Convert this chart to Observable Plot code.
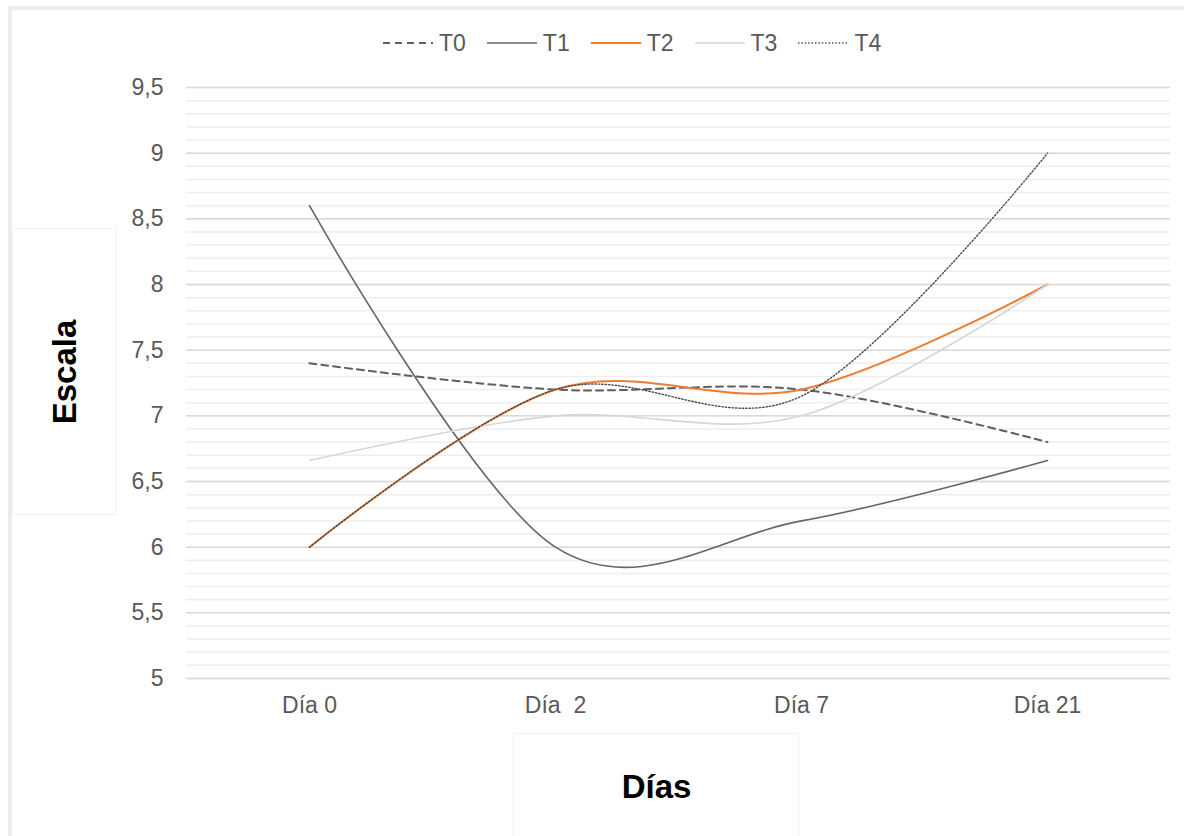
<!DOCTYPE html>
<html>
<head>
<meta charset="utf-8">
<script src="https://cdn.jsdelivr.net/npm/d3@7"></script>
<script src="https://cdn.jsdelivr.net/npm/@observablehq/plot@0.6"></script>
<style>
  body { margin: 0; background: #fff; font-family: "Liberation Sans", Arial, sans-serif; }
  #wrap { position: relative; width: 1184px; height: 836px; }
  #wrap svg text { white-space: pre; }
  #legend { position: absolute; top: 30px; left: 383px; display: flex; align-items: center;
            font-size: 23px; color: #595959; line-height: 26px; }
  #legend .item { display: flex; align-items: center; margin-right: 21px; }
  #legend .item svg { margin-right: 6px; }
</style>
</head>
<body>
<div id="wrap"><div id="legend"></div></div>
<script>
// Días de medición
const dias = ["Día 0", "Día  2", "Día 7", "Día 21"];

// Valores de la escala por tratamiento
const T0 = [7.4, 7.2, 7.2, 6.8];
const T1 = [8.6, 6.0, 6.2, 6.66];
const T2 = [6.0, 7.2, 7.2, 8.0];
const T3 = [6.66, 7.0, 7.0, 8.0];
const T4 = [6.0, 7.2, 7.15, 9.0];

const tratamientos = ["T0", "T1", "T2", "T3", "T4"];
const valores = [T0, T1, T2, T3, T4];

// Marcas del eje Y (principales) y líneas de división secundarias
const yTicks = [5, 5.5, 6, 6.5, 7, 7.5, 8, 8.5, 9, 9.5];
const yMinor = d3.range(50, 96).map(d => d / 10);

// Estilo de cada serie
const estilo = {
  T0: {stroke: "#5f5f5f", strokeWidth: 2, strokeDasharray: "7,5"},
  T1: {stroke: "#666666", strokeWidth: 1.6, strokeDasharray: null},
  T2: {stroke: "#ED7D31", strokeWidth: 2, strokeDasharray: null},
  T3: {stroke: "#d6d6d6", strokeWidth: 1.6, strokeDasharray: null},
  T4: {stroke: "#4a4a4a", strokeWidth: 1.4, strokeDasharray: "1.4,2"}
};

const filas = tratamientos.flatMap((t, i) =>
  dias.map((d, j) => ({tratamiento: t, dia: d, valor: valores[i][j]})));

const coma = d => String(d).replace(".", ",");

const chart = Plot.plot({
  width: 1184,
  height: 836,
  marginTop: 87,
  marginBottom: 158,
  marginLeft: 186,
  marginRight: 14,
  style: {fontFamily: "'Liberation Sans', Arial, sans-serif", background: "transparent"},
  x: {type: "point", domain: dias, padding: 0.5},
  y: {domain: [5, 9.5]},
  marks: [
    Plot.ruleY(yMinor, {stroke: "#eeeeee", strokeWidth: 1.5}),
    Plot.ruleY(yTicks, {stroke: "#d9d9d9", strokeWidth: 1.5}),
    ...tratamientos.map(t => Plot.line(filas.filter(r => r.tratamiento === t), {
      x: "dia", y: "valor",
      curve: "cardinal", tension: 0,
      ...estilo[t]
    })),
    Plot.axisY({ticks: yTicks, tickFormat: coma, tickSize: 0, tickPadding: 23,
                fontSize: 23, color: "#595959", label: null}),
    Plot.axisX({tickSize: 0, tickPadding: 18, fontSize: 23, color: "#595959", label: null}),
    Plot.text(["Escala"], {frameAnchor: "left", dx: -121, dy: -11, rotate: -90,
                           textAnchor: "middle", lineAnchor: "middle",
                           fontSize: 33, fontWeight: "bold", fill: "black"}),
    Plot.text(["Días"], {frameAnchor: "bottom", dx: -22, dy: 109, lineAnchor: "middle",
                         fontSize: 33, fontWeight: "bold", fill: "black"})
  ]
});

// Marco exterior y recuadros de los títulos de eje
const svg = d3.select(chart);
svg.insert("g", ":first-child").call(g => {
  g.append("rect").attr("x", 8).attr("y", 6).attr("width", 1176).attr("height", 4).attr("fill", "#ececec");
  g.append("rect").attr("x", 8).attr("y", 6).attr("width", 4).attr("height", 830).attr("fill", "#ececec");
  g.append("rect").attr("x", 12.5).attr("y", 228.5).attr("width", 104).attr("height", 286)
    .attr("fill", "none").attr("stroke", "#f3f3f3");
  g.append("rect").attr("x", 513.5).attr("y", 733.5).attr("width", 285).attr("height", 120)
    .attr("fill", "none").attr("stroke", "#f3f3f3");
});

document.getElementById("wrap").prepend(chart);

// Leyenda
const legend = d3.select("#legend");
for (const t of tratamientos) {
  const item = legend.append("div").attr("class", "item");
  const s = item.append("svg").attr("width", 50).attr("height", 10);
  s.append("line").attr("x1", 0).attr("x2", 50).attr("y1", 5).attr("y2", 5)
    .attr("stroke", estilo[t].stroke)
    .attr("stroke-width", estilo[t].strokeWidth)
    .attr("stroke-dasharray", estilo[t].strokeDasharray);
  item.append("span").text(t);
}
</script>
</body>
</html>
